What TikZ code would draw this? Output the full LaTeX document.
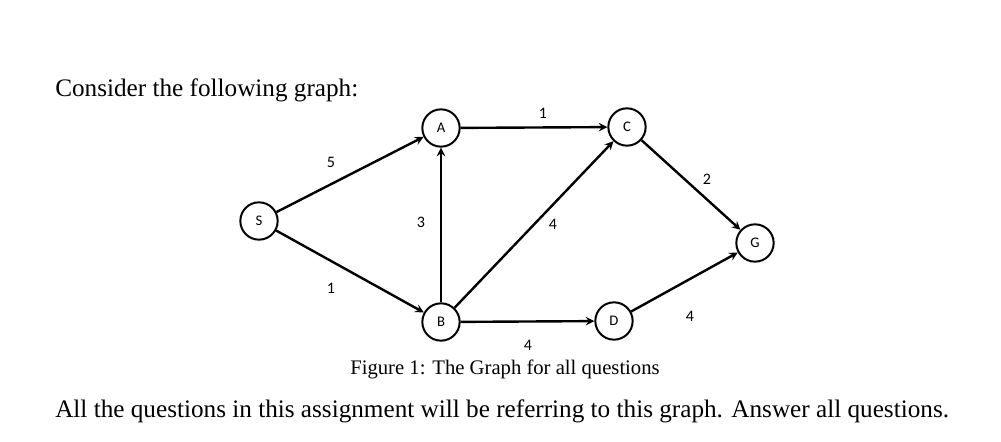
\documentclass[tikz,border=0pt]{standalone}
\usepackage{fontspec}
\setmainfont{Liberation Serif}
\newfontfamily\carlitofont{Carlito}
\begin{document}
\begin{tikzpicture}[x=0.75pt,y=-0.75pt,
  vtx/.style={circle,draw,line width=1.5pt,minimum size=28pt,inner sep=0pt,font=\carlitofont\fontsize{11}{12}\selectfont},
  edge/.style={->,>=stealth,line width=1.8pt},
  wt/.style={font=\carlitofont\fontsize{12}{13}\selectfont},
  txt/.style={anchor=base west,inner sep=0pt,font=\fontsize{18.9}{22}\selectfont}]
\useasboundingbox (0,0) rectangle (1001,442);
\node[txt] (t1) at (55,97) {Consider the following graph:};
\node[vtx] (S) at (259,221) {S};
\node[vtx] (A) at (441,128) {A};
\node[vtx] (C) at (627,127) {C};
\node[vtx] (G) at (755,243) {G};
\node[vtx] (B) at (441,322) {B};
\node[vtx] (D) at (614,321) {D};
\draw[edge] (S) -- (A);
\draw[edge] (S) -- (B);
\draw[edge] (A) -- (C);
\draw[edge] (B) -- (A);
\draw[edge] (B) -- (C);
\draw[edge] (B) -- (D);
\draw[edge] (C) -- (G);
\draw[edge] (D) -- (G);
\node[wt] (w1) at (331,162) {5};
\node[wt] (w2) at (543,113) {1};
\node[wt] (w3) at (707,179) {2};
\node[wt] (w4) at (421,222) {3};
\node[wt] (w5) at (553,224) {4};
\node[wt] (w6) at (331,288) {1};
\node[wt] (w7) at (528,345) {4};
\node[wt] (w8) at (690,316) {4};
\node[inner sep=0pt,font=\fontsize{15.5}{17}\selectfont] (cap) at (505,369) {Figure 1: The Graph for all questions};
\node[txt] (t2) at (55,417) {All the questions in this assignment will be referring to this graph. Answer all questions.};
\end{tikzpicture}
\end{document}
